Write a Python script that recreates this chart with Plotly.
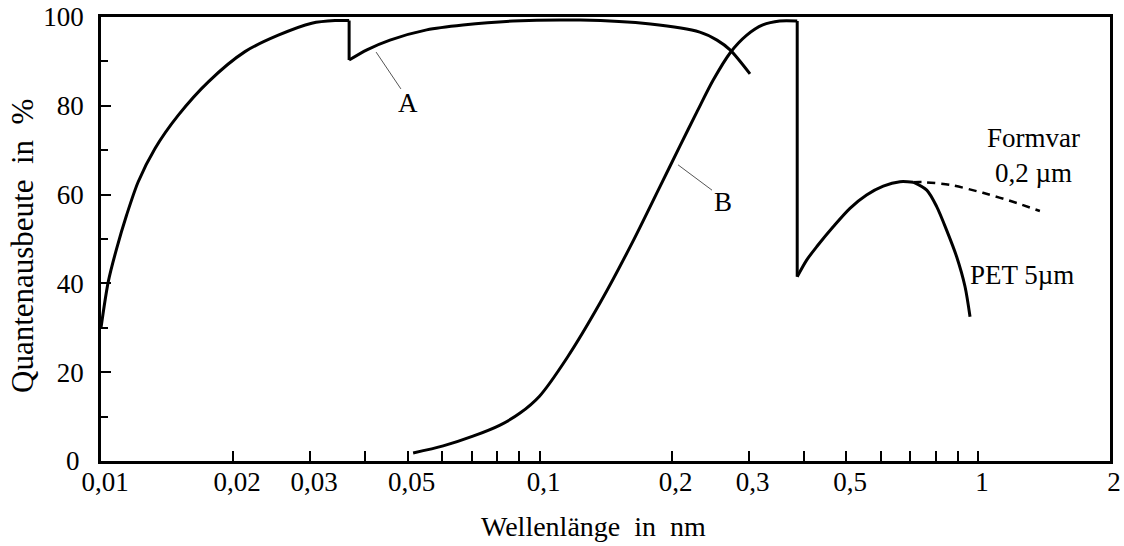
import plotly.graph_objects as go
import math

# Curve A
A1_x = [0.01, 0.01039, 0.01086, 0.01144, 0.01216, 0.01328, 0.01501, 0.01757, 0.0213, 0.02537, 0.03024, 0.03418, 0.0368]
A1_y = [30, 40.4, 47.9, 55.4, 62.9, 70.4, 77.9, 85.4, 92.2, 95.9, 98.6, 99.2, 99.2]
A_edge_x = [0.0368, 0.0368]
A_edge_y = [99.2, 90.3]
A2_x = [0.0368, 0.0404, 0.0456, 0.0553, 0.0669, 0.087, 0.124, 0.179, 0.232, 0.254, 0.272, 0.302]
A2_y = [90.3, 92.6, 94.8, 97.1, 98.2, 99.1, 99.3, 98.4, 96.6, 94.8, 92.6, 87.2]

# Curve B
B1_x = [0.0515, 0.0603, 0.0705, 0.0813, 0.0903, 0.1, 0.1155, 0.1378, 0.163, 0.188, 0.209, 0.229, 0.249, 0.272, 0.297, 0.323, 0.353, 0.387]
B1_y = [1.8, 3.4, 5.6, 8.1, 10.8, 14.6, 23.2, 35.8, 49.3, 61.7, 70.9, 78.8, 85.8, 91.9, 95.9, 98.2, 99.1, 99.1]
B_edge_x = [0.387, 0.387]
B_edge_y = [99.1, 41.5]
B2_x = [0.387, 0.407, 0.429, 0.468, 0.5105, 0.557, 0.608, 0.664, 0.712]
B2_y = [41.5, 45.3, 48.3, 52.8, 56.9, 59.9, 61.9, 62.9, 62.8]
PET_x = [0.712, 0.764, 0.805, 0.848, 0.894, 0.934, 0.959]
PET_y = [62.8, 61.0, 57.3, 52.0, 46.0, 39.3, 32.5]
FV_x = [0.712, 0.75, 0.863, 1.026, 1.227, 1.384]
FV_y = [62.8, 62.8, 62.2, 60.4, 58.1, 56.3]

# leader lines
LA_x = [0.0424, 0.0483]
LA_y = [92.1, 83.8]
LB_x = [0.207, 0.2474]
LB_y = [66.7, 61]

x_tickvals = [0.01, 0.02, 0.03, 0.04, 0.05, 0.06, 0.07, 0.08, 0.09, 0.1, 0.2, 0.3, 0.4, 0.5, 0.6, 0.7, 0.8, 0.9, 1, 2]
x_ticktext = ["0,01", "0,02", "0,03", "", "0,05", "", "", "", "", "0,1", "0,2", "0,3", "", "0,5", "", "", "", "", "1", "2"]
y_tickvals = [0, 20, 40, 60, 80, 100]
y_ticktext = ["", "20", "40", "60", "80", "100"]
y_zero_label = "0"

FONT = "Liberation Serif, Times New Roman, DejaVu Serif, serif"
fig = go.Figure()

def add(x, y, shape="spline", dash="solid", width=3, color="black"):
    fig.add_trace(go.Scatter(x=x, y=y, mode="lines",
                             line=dict(color=color, width=width, dash=dash, shape=shape,
                                       smoothing=0.8 if shape == "spline" else None),
                             showlegend=False, hoverinfo="skip"))

add(A1_x, A1_y)
add(A_edge_x, A_edge_y, shape="linear")
add(A2_x, A2_y)
add(B1_x, B1_y)
add(B_edge_x, B_edge_y, shape="linear")
add(B2_x, B2_y)
add(PET_x, PET_y)
add(FV_x, FV_y, dash="8px,6px", width=2.5)
add(LA_x, LA_y, shape="linear", width=1, color="#555")
add(LB_x, LB_y, shape="linear", width=1, color="#555")

labels = [
    ("A", 0.0501, 80.6),
    ("B", 0.262, 58.3),
    ("Formvar<br>0,2 µm", 1.34, 68.7),
    ("PET 5µm", 1.26, 41.9),
]
for txt, lx, ly in labels:
    fig.add_annotation(x=math.log10(lx), y=ly, xref="x", yref="y", text=txt, showarrow=False,
                       font=dict(family=FONT, size=27, color="black"), xanchor="center", yanchor="middle")

# the "0" of the y axis, set slightly left so it does not collide with "0,01"
fig.add_annotation(x=-0.0188, y=0, xref="paper", yref="y", text=y_zero_label, showarrow=False,
                   font=dict(family=FONT, size=27, color="black"), xanchor="right", yanchor="middle")

# axis titles
fig.add_annotation(x=0.4886, y=-0.1486, xref="paper", yref="paper", text="Wellenlänge  in  nm",
                   showarrow=False, font=dict(family=FONT, size=28, color="black"),
                   xanchor="center", yanchor="middle")
fig.add_annotation(x=-0.0783, y=0.4842, xref="paper", yref="paper", text="Quantenausbeute  in  %",
                   showarrow=False, textangle=-90, font=dict(family=FONT, size=31, color="black"),
                   xanchor="center", yanchor="middle")

fig.update_layout(
    width=1124, height=546,
    margin=dict(l=101, r=14, t=17, b=85),
    paper_bgcolor="white", plot_bgcolor="white",
    font=dict(family=FONT, size=27, color="black"),
)
fig.update_xaxes(
    type="log", range=[-2, math.log10(2)], automargin=False,
    tickvals=x_tickvals, ticktext=x_ticktext,
    ticks="inside", ticklen=10, tickwidth=2, tickcolor="black",
    showline=True, linewidth=2.5, linecolor="black", mirror=True,
    showgrid=False, zeroline=False, ticklabelstandoff=-5, ticklabelshift=4,
    tickfont=dict(family=FONT, size=27),
)
fig.update_yaxes(
    range=[0, 100], automargin=False,
    tickvals=y_tickvals, ticktext=y_ticktext,
    ticks="inside", ticklen=10, tickwidth=2, tickcolor="black",
    minor=dict(ticks="inside", ticklen=7, tickwidth=2, tickcolor="black", dtick=10),
    showline=True, linewidth=2.5, linecolor="black", mirror=True,
    showgrid=False, zeroline=False, ticklabelstandoff=9,
    tickfont=dict(family=FONT, size=27),
)
fig.write_html("out.html")
